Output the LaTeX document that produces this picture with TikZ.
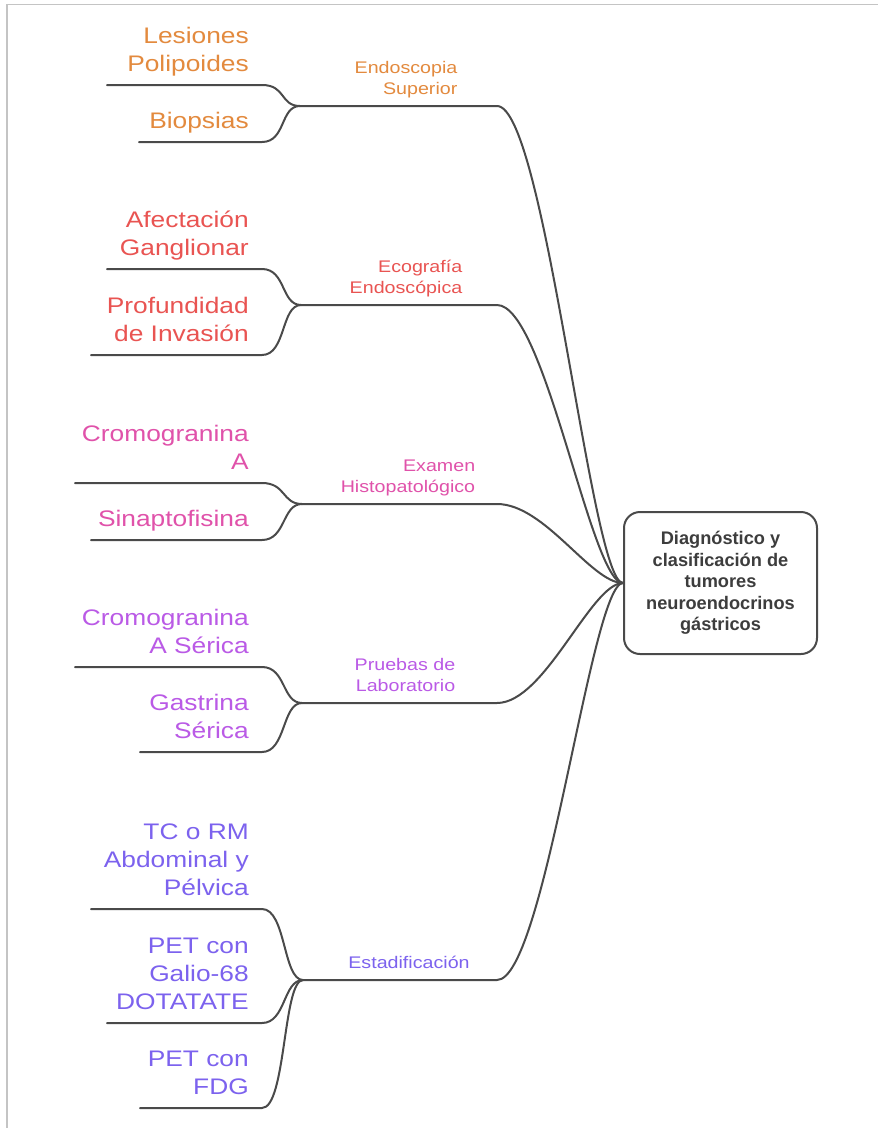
\documentclass[tikz,border=0pt]{standalone}
\usepackage{fontspec}
\setmainfont{Liberation Sans}
\definecolor{linegray}{HTML}{4A4A4A}
\definecolor{framegray}{HTML}{C4C4C4}
\definecolor{textgray}{HTML}{3D3D3D}
\definecolor{corange}{HTML}{E38A3E}
\definecolor{cred}{HTML}{E95452}
\definecolor{cpink}{HTML}{E052AA}
\definecolor{cpurple}{HTML}{BA5AE6}
\definecolor{cviolet}{HTML}{7C62EE}
\begin{document}
\begin{tikzpicture}[x=1pt,y=-1pt,
  link/.style={draw=linegray, line width=2pt, line cap=round, line join=round},
  leaf/.style={anchor=south east, inner sep=0pt, align=right, xscale=1.17,
    font=\fontsize{22.5}{28}\selectfont},
  topic/.style={anchor=south, inner sep=0pt, align=right, xscale=1.17,
    font=\fontsize{16.8}{21}\selectfont},
  hubbox/.style={draw=linegray, line width=2pt, rounded corners=16pt, fill=white,
    minimum width=193pt, minimum height=142pt, align=center, text=textgray,
    font=\fontsize{18.2}{21.4}\selectfont\bfseries}]

% canvas and frame
\useasboundingbox (0,0) rectangle (878,1128);
\fill[white] (0,0) rectangle (878,1128);
\draw[framegray, line width=1.6pt] (7,1128) -- (7,4.5) -- (878,4.5);

% central topic
\node[hubbox] (hub) at (720.5,583) {Diagnóstico y\\clasificación de\\tumores\\neuroendocrinos\\gástricos};

% ---------- Endoscopia Superior ----------
\coordinate (j1) at (300,106);
\coordinate (b1) at (497,106);
\node[topic, text=corange] (t1) at (406,101.3) {Endoscopia\\Superior\strut};
\node[leaf, text=corange] (l11) at (249,80.4) {Lesiones\\Polipoides\strut};
\node[leaf, text=corange] (l12) at (249,137.4) {Biopsias\strut};
\coordinate (u11s) at (107,85);  \coordinate (u11e) at (262,85);
\coordinate (u12s) at (139,142); \coordinate (u12e) at (262,142);

% ---------- Ecografía Endoscópica ----------
\coordinate (j2) at (301,305);
\coordinate (b2) at (497,305);
\node[topic, text=cred] (t2) at (406,300.3) {Ecografía\\Endoscópica\strut};
\node[leaf, text=cred] (l21) at (249,264.4) {Afectación\\Ganglionar\strut};
\node[leaf, text=cred] (l22) at (249,350.4) {Profundidad\\de Invasión\strut};
\coordinate (u21s) at (107,269); \coordinate (u21e) at (262,269);
\coordinate (u22s) at (91,355);  \coordinate (u22e) at (262,355);

% ---------- Examen Histopatológico ----------
\coordinate (j3) at (302,504);
\coordinate (b3) at (497,504);
\node[topic, text=cpink] (t3) at (408,499.3) {Examen\\Histopatológico\strut};
\node[leaf, text=cpink] (l31) at (249,478.4) {Cromogranina\\A\strut};
\node[leaf, text=cpink] (l32) at (249,535.4) {Sinaptofisina\strut};
\coordinate (u31s) at (75,483);  \coordinate (u31e) at (262,483);
\coordinate (u32s) at (91,540);  \coordinate (u32e) at (262,540);

% ---------- Pruebas de Laboratorio ----------
\coordinate (j4) at (302,703);
\coordinate (b4) at (497,703);
\node[topic, text=cpurple] (t4) at (405,698.3) {Pruebas de\\Laboratorio\strut};
\node[leaf, text=cpurple] (l41) at (249,662.4) {Cromogranina\\A Sérica\strut};
\node[leaf, text=cpurple] (l42) at (249,747.4) {Gastrina\\Sérica\strut};
\coordinate (u41s) at (75,667);  \coordinate (u41e) at (262,667);
\coordinate (u42s) at (140,752); \coordinate (u42e) at (262,752);

% ---------- Estadificación ----------
\coordinate (j5) at (303,980);
\coordinate (b5) at (497,980);
\node[topic, text=cviolet] (t5) at (409,975.3) {Estadificación\strut};
\node[leaf, text=cviolet] (l51) at (249,904.4) {TC o RM\\Abdominal y\\Pélvica\strut};
\node[leaf, text=cviolet] (l52) at (249,1018.4) {PET con\\Galio-68\\DOTATATE\strut};
\node[leaf, text=cviolet] (l53) at (249,1103.4) {PET con\\FDG\strut};
\coordinate (u51s) at (91,909);  \coordinate (u51e) at (262,909);
\coordinate (u52s) at (107,1023); \coordinate (u52e) at (262,1023);
\coordinate (u53s) at (140,1108); \coordinate (u53e) at (262,1108);

% leaf connectors: underline, then an S-bend into the branch junction
\foreach \b/\l in {1/1,1/2,2/1,2/2,3/1,3/2,4/1,4/2,5/1,5/2,5/3}
  \draw[link] (u\b\l s) -- (u\b\l e) .. controls +(24,0) and +(-20,0) .. (j\b);

% branch connectors: horizontal run, then a long sweep into the central topic
\foreach \b in {1,...,5}
  \draw[link] (j\b) -- (b\b) .. controls +(48,0) and +(-32,0) .. (hub.west);

\end{tikzpicture}
\end{document}
